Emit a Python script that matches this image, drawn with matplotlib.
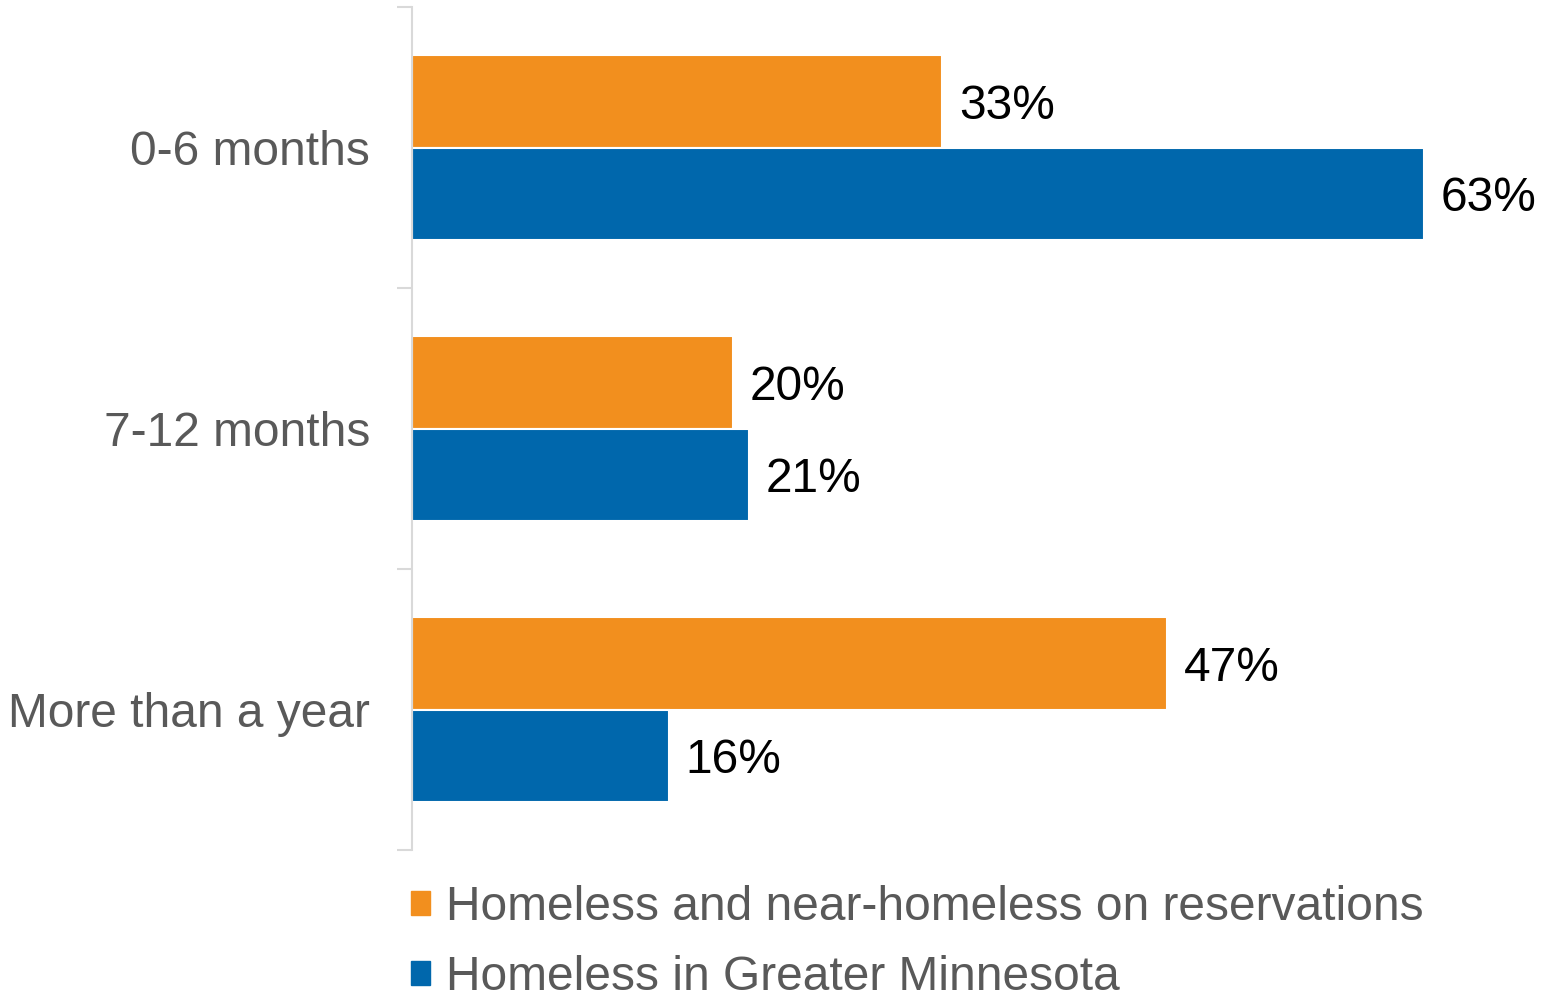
import matplotlib
matplotlib.use("Agg")
import matplotlib.pyplot as plt
from matplotlib.patches import Patch

# data
categories = ["0-6 months", "7-12 months", "More than a year"]
reservation_pct = [33, 20, 47]
greater_mn_pct = [63, 21, 16]
series_names = ["Homeless and near-homeless on reservations",
                "Homeless in Greater Minnesota"]

ORANGE = "#F28F1E"
BLUE = "#0067AC"
GRID = "#D9D9D9"
LABEL = "#595959"
FS = 34.5

plt.rcParams['font.family'] = ['Liberation Sans', 'DejaVu Sans']

fig = plt.figure(figsize=(15.47, 9.94), dpi=100)
ax = fig.add_axes([412 / 1547, 144 / 994, 1120 / 1547, 843 / 994])

pos = list(range(len(categories)))
h = 0.33
top = ax.barh([p - h / 2 for p in pos], reservation_pct, height=h, color=ORANGE,
              edgecolor="white", linewidth=1.5)
bot = ax.barh([p + h / 2 for p in pos], greater_mn_pct, height=h, color=BLUE,
              edgecolor="white", linewidth=1.5)

for bars in (top, bot):
    labels = ax.bar_label(bars, labels=[f"{v}%" for v in bars.datavalues],
                          padding=12, fontsize=FS, color="black")
    for t in labels:
        t.set_va("center_baseline")

ax.set_xlim(0, 69.7)
ax.set_ylim(len(categories) - 0.5, -0.5)

# category boundaries as tick marks, names centred between them
ax.set_yticks([i - 0.5 for i in range(len(categories) + 1)])
ax.set_yticklabels([])
ax.set_yticks(pos, minor=True)
ax.set_yticklabels(categories, minor=True, fontsize=FS, color=LABEL)
ax.tick_params(axis="y", which="major", length=11, width=1.5, color=GRID)
ax.tick_params(axis="y", which="minor", length=0, pad=30)

ax.set_xticks([])
for side in ("top", "right", "bottom"):
    ax.spines[side].set_visible(False)
ax.spines["left"].set_color(GRID)
ax.spines["left"].set_linewidth(1.5)

handles = [Patch(color=ORANGE), Patch(color=BLUE)]
leg = fig.legend(handles, series_names, loc="upper left",
                 bbox_to_anchor=(411 / 1547, 1 - 885 / 994), frameon=False,
                 fontsize=FS, handlelength=0.4, handleheight=0.4,
                 handletextpad=0.33, labelspacing=0.52, borderpad=0,
                 borderaxespad=0)
for t in leg.get_texts():
    t.set_color(LABEL)

fig.savefig("out.png", dpi=100)
